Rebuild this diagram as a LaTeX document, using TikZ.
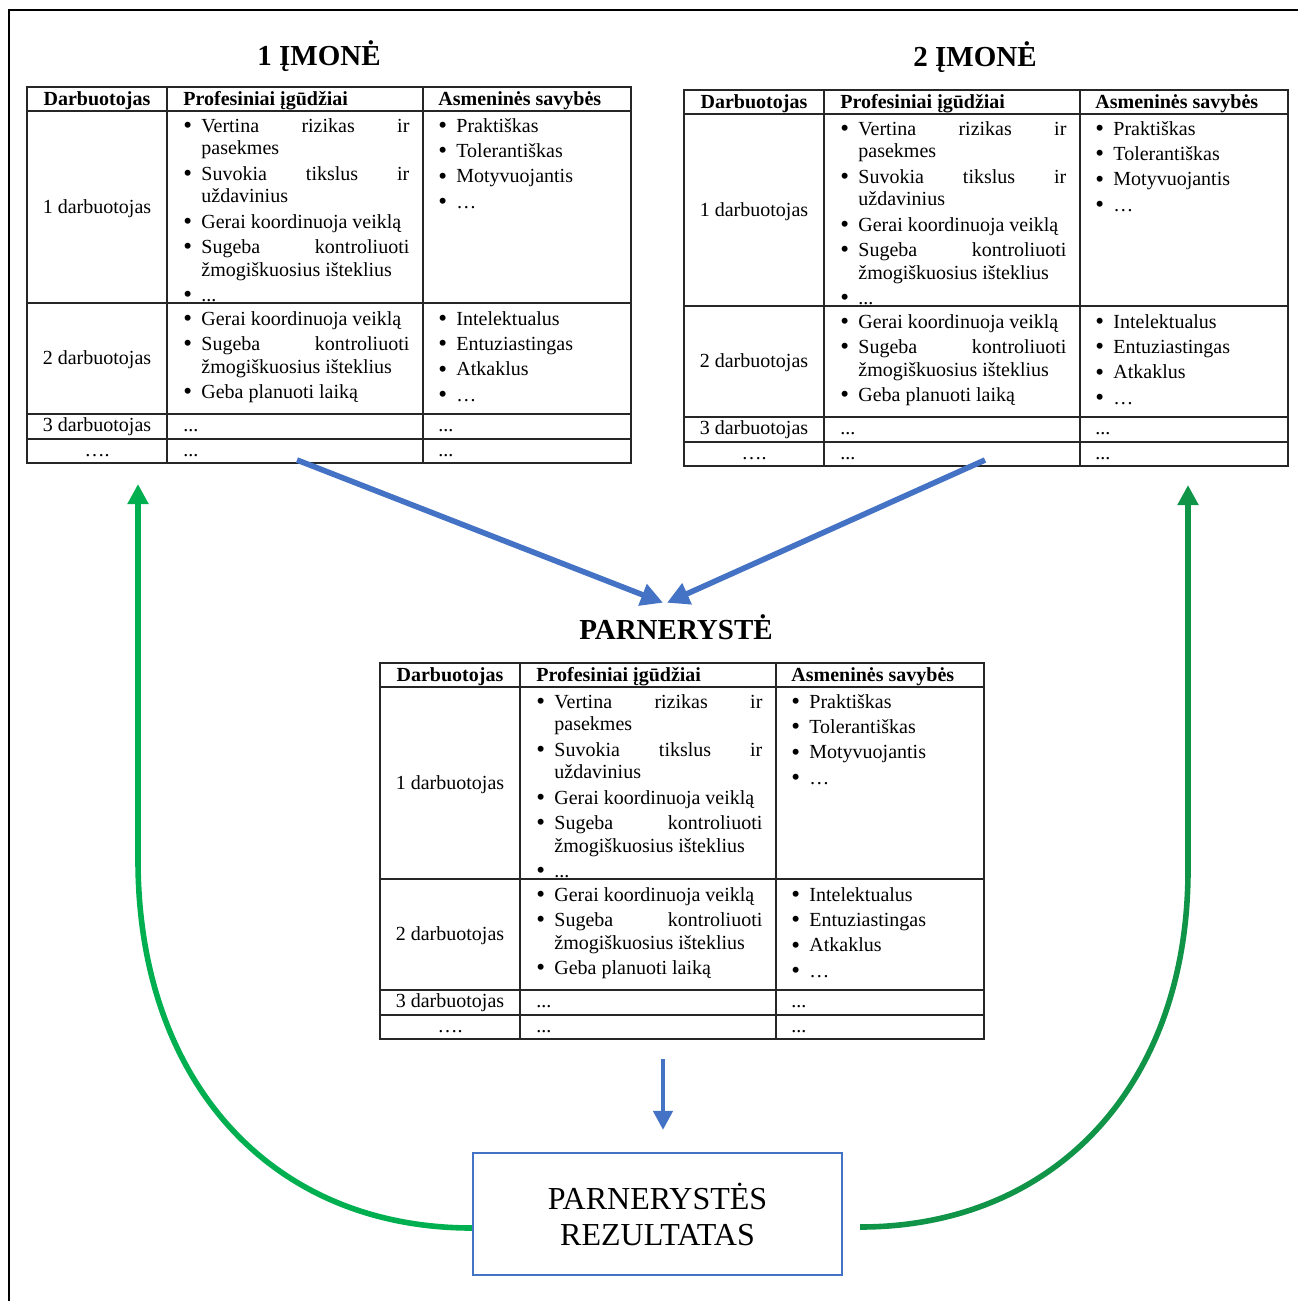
\documentclass[tikz,border=0pt]{standalone}
\usepackage{fontspec}
\setmainfont{Liberation Serif}
\usetikzlibrary{arrows.meta}
\definecolor{linkblue}{HTML}{4472C4}
\definecolor{lgreen}{HTML}{00B050}
\definecolor{dgreen}{HTML}{0F9448}
\newcommand{\bul}[1]{\noindent\hangindent=9pt\hangafter=1\makebox[9pt][l]{\raisebox{-0.6pt}{\fontsize{12.5}{11}\selectfont\textbullet}}#1\par}
\tikzset{
  tblframe/.style={draw=black!85, line width=0.8pt, anchor=north west, minimum width=302pt, minimum height=188pt, inner sep=0pt, outer sep=0pt},
  tblline/.style={draw=black!85, line width=0.8pt},
  cell/.style={inner sep=0pt, font=\fontsize{10}{12}\selectfont},
  hd/.style={cell, font=\bfseries\fontsize{10}{12}\selectfont},
  lst/.style={cell, anchor=base west, text width=#1, align=justify, font=\fontsize{10}{11.3}\selectfont, execute at begin node={\setlength{\parskip}{1.4pt}}},
  ttl/.style={inner sep=0pt, anchor=base, font=\bfseries\fontsize{14.5}{17}\selectfont},
  resbox/.style={draw=linkblue, line width=1.1pt, minimum width=184.5pt, minimum height=61pt, align=center, inner sep=0pt, font=\fontsize{16}{18}\selectfont},
  bluearr/.style={draw=linkblue, line width=2.8pt, -{Triangle[width=11pt,length=11pt]}},
  downarr/.style={draw=linkblue, line width=2.2pt, -{Triangle[width=9.5pt,length=9.5pt]}},
  garr/.style={line width=2.8pt, -{Triangle[width=10pt,length=10pt]}}
}
\newcommand{\darbtable}[2]{%
\begin{scope}[shift={#2}]
\node[tblframe] (#1) at (0,0) {};
\draw[tblline] (140,0) -- (140,376) (396,0) -- (396,376) (0,24) -- (604,24) (0,216) -- (604,216) (0,327) -- (604,327) (0,352) -- (604,352);
\node[hd, anchor=base] (#1-h1) at (70,18) {Darbuotojas};
\node[hd, anchor=base west] (#1-h2) at (156,18) {Profesiniai įgūdžiai};
\node[hd, anchor=base west] (#1-h3) at (411,18) {Asmeninės savybės};
\node[cell] (#1-d1) at (70,122) {1 darbuotojas};
\node[lst=113pt] (#1-p1) at (156,45) {\bul{Vertina rizikas ir\linebreak pasekmes}\bul{Suvokia tikslus ir\linebreak uždavinius}\bul{Gerai koordinuoja veiklą}\bul{Sugeba kontroliuoti\linebreak žmogiškuosius išteklius}\bul{...}};
\node[lst=100pt] (#1-a1) at (411,45) {\bul{Praktiškas}\bul{Tolerantiškas}\bul{Motyvuojantis}\bul{…}};
\node[cell] (#1-d2) at (70,273) {2 darbuotojas};
\node[lst=113pt] (#1-p2) at (156,238) {\bul{Gerai koordinuoja veiklą}\bul{Sugeba kontroliuoti\linebreak žmogiškuosius išteklius}\bul{Geba planuoti laiką}};
\node[lst=100pt] (#1-a2) at (411,238) {\bul{Intelektualus}\bul{Entuziastingas}\bul{Atkaklus}\bul{…}};
\node[cell, anchor=base] (#1-d3) at (70,344) {3 darbuotojas};
\node[cell, anchor=base west] (#1-p3) at (156,344) {...};
\node[cell, anchor=base west] (#1-a3) at (411,344) {...};
\node[cell, anchor=base] (#1-d4) at (70,369) {….};
\node[cell, anchor=base west] (#1-p4) at (156,369) {...};
\node[cell, anchor=base west] (#1-a4) at (411,369) {...};
\end{scope}}

\begin{document}
\begin{tikzpicture}[x=0.5pt, y=-0.5pt]
\useasboundingbox (0,0) rectangle (1298,1301);
\draw[line width=1.4pt] (1298,10) -- (9,10) -- (9,1301);

\node[ttl] (imone1) at (319,65) {1 ĮMONĖ};
\node[ttl] (imone2) at (975,66) {2 ĮMONĖ};
\node[ttl] (parn) at (676,639) {PARNERYSTĖ};

\darbtable{t1}{(27,87)}
\darbtable{t2}{(684,90)}
\darbtable{t3}{(380,663)}

\node[resbox] (res) at (657.5,1214) {PARNERYSTĖS\\REZULTATAS};

\draw[bluearr] ([xshift=-16pt,yshift=1.5pt]t1.south) -- ([xshift=-6.5pt,yshift=5.5pt]parn.north);
\draw[bluearr] ([xshift=-0.5pt,yshift=3pt]t2.south) -- ([xshift=-4.5pt,yshift=5.5pt]parn.north);
\draw[downarr] ([xshift=-9.5pt,yshift=-10pt]t3.south) -- ([xshift=2.75pt,yshift=11pt]res.north);
\draw[garr, lgreen] ([yshift=-7pt]res.west) .. controls (270,1228) and (138,1080) .. (138,860) -- ([xshift=55.5pt,yshift=-10.5pt]t1.south west);
\draw[garr, dgreen] ([xshift=8.5pt,yshift=-6.5pt]res.east) .. controls (1055,1227) and (1188,1085) .. (1188,870) -- ([xshift=-50pt,yshift=-9.5pt]t2.south east);
\end{tikzpicture}
\end{document}
